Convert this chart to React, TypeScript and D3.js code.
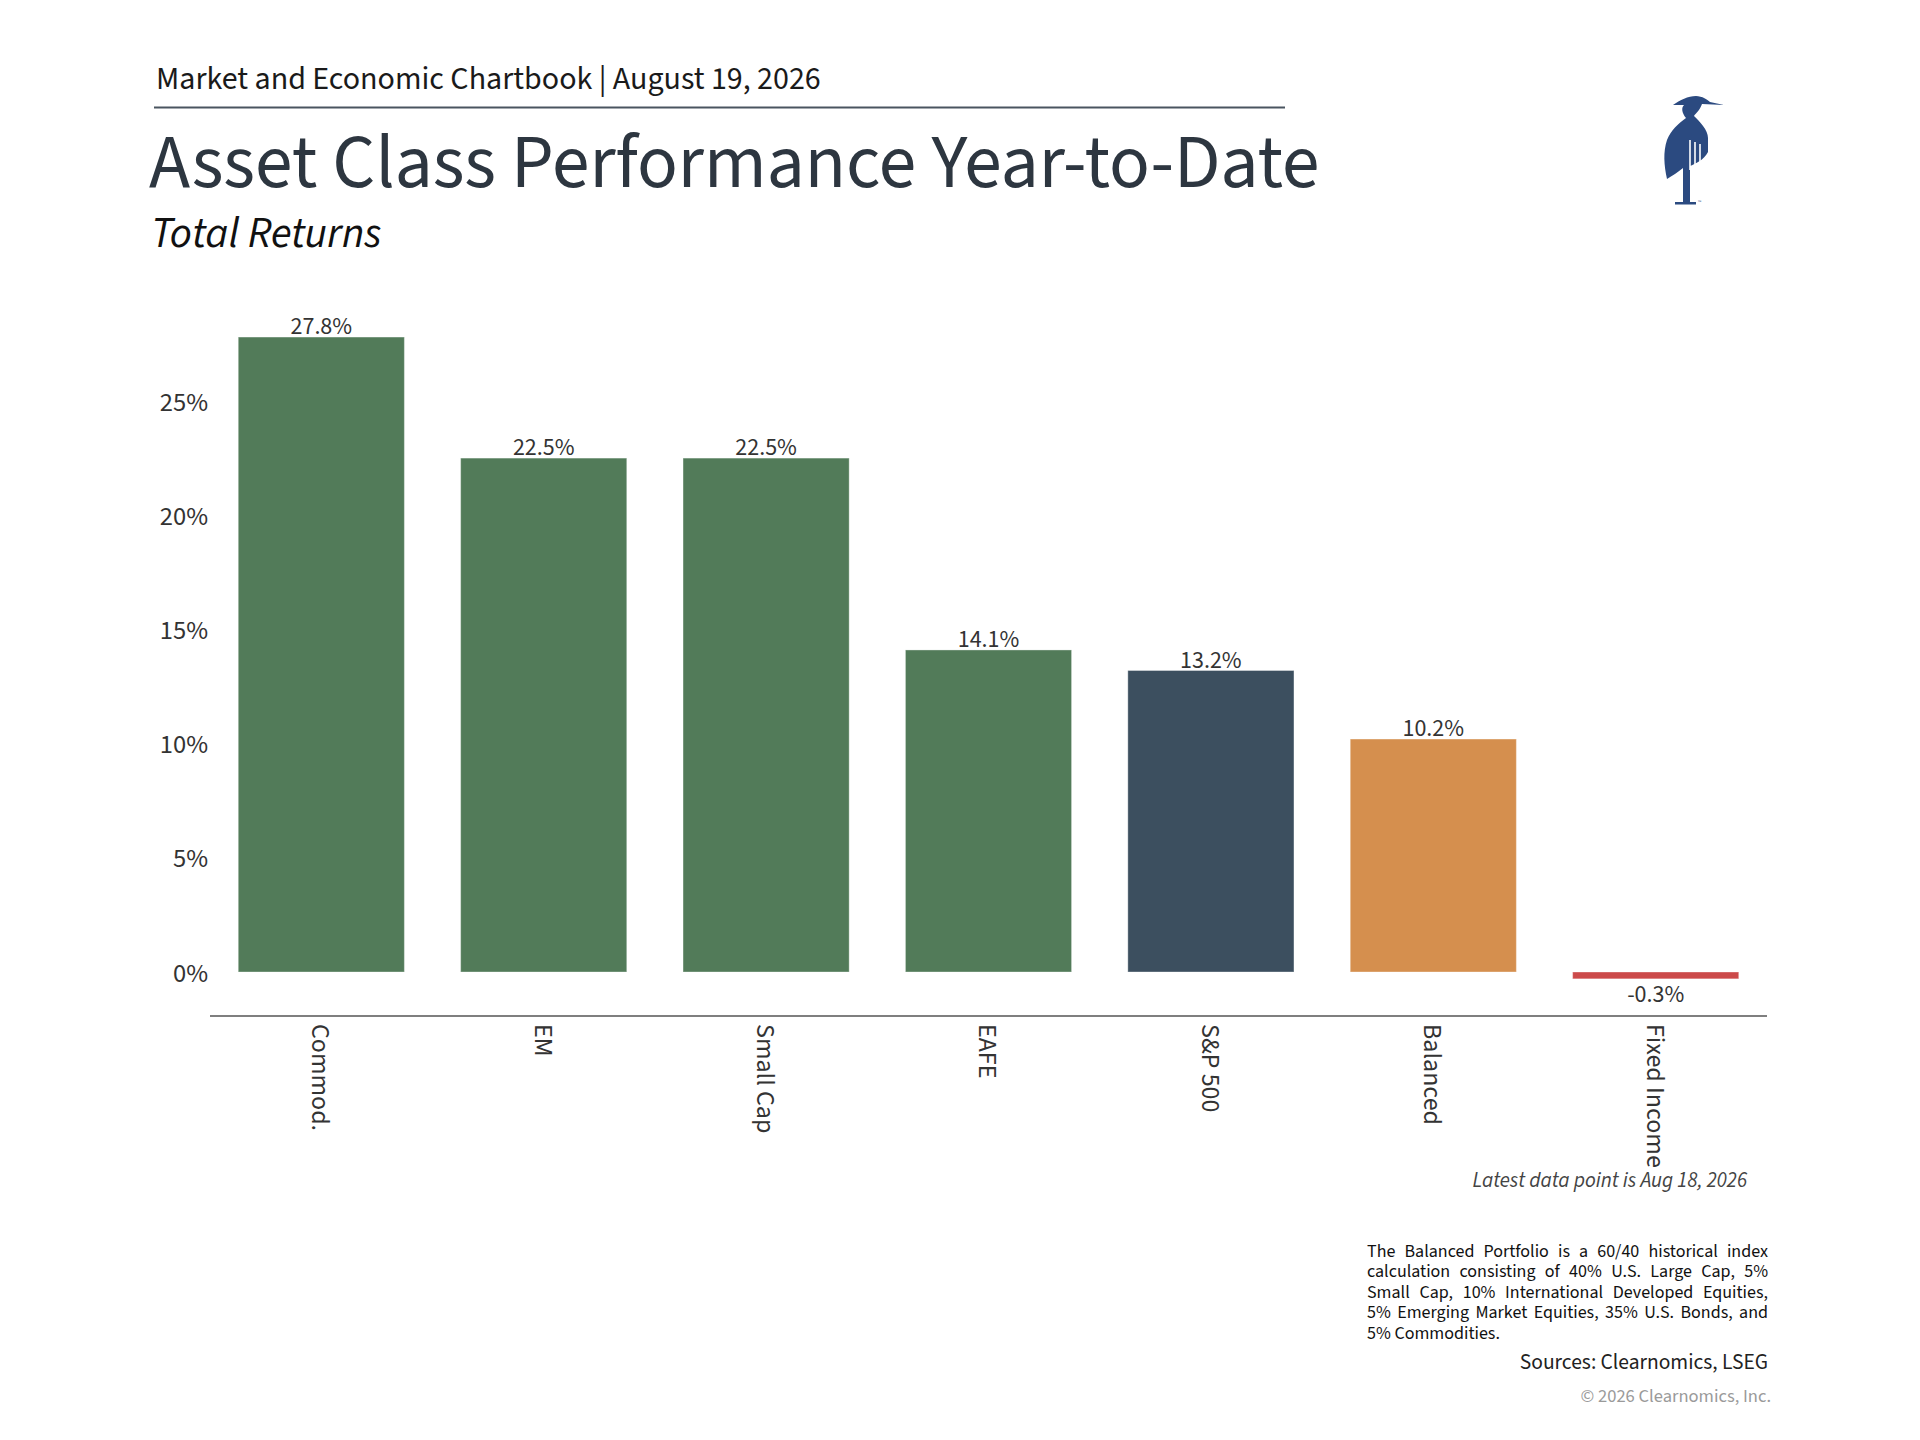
import React, { useEffect, useRef } from 'react';
import * as d3 from 'd3';

// chart data
const categories = ['Commod.', 'EM', 'Small Cap', 'EAFE', 'S&P 500', 'Balanced', 'Fixed Income'];
const returns = [27.8, 22.5, 22.5, 14.1, 13.2, 10.2, -0.3];
const barColors = ['#527b59', '#527b59', '#527b59', '#527b59', '#3c4f5f', '#d58f4e', '#cc4a4a'];
const yTicks = [0, 5, 10, 15, 20, 25];

const footnoteLines = [
  'The Balanced Portfolio is a 60/40 historical index',
  'calculation consisting of 40% U.S. Large Cap, 5%',
  'Small Cap, 10% International Developed Equities,',
  '5% Emerging Market Equities, 35% U.S. Bonds, and',
  '5% Commodities.',
];

const FONT = "'Source Sans 3', 'Source Sans Pro', Lato, sans-serif";

const App = () => {
  const noteRef = useRef<SVGGElement>(null);

  // Get the axis scales.
  const xScale = d3
    .scaleBand<string>()
    .domain(categories)
    .range([210, 1767])
    .paddingInner(0.253)
    .paddingOuter(0.127);
  const yScale = d3.scaleLinear().domain([0, 25]).range([972, 401]);

  // justify the footnote lines (all but the last) to the block width
  useEffect(() => {
    const g = d3.select(noteRef.current);
    const blockWidth = 401;
    g.selectAll<SVGTextElement, unknown>('text').each(function (_d, i) {
      if (i === footnoteLines.length - 1) return;
      const words = footnoteLines[i].split(' ').length;
      const w = this.getComputedTextLength();
      d3.select(this).attr('word-spacing', (blockWidth - w) / (words - 1));
    });
  }, []);

  return (
    <svg
      width={1920}
      height={1440}
      style={{ position: 'absolute', left: 0, top: 0, background: '#fff' }}
      fontFamily={FONT}
    >
      {/* header */}
      <text x={156} y={89} fontSize={32} fill="#1a1a1a">
        Market and Economic Chartbook | August 19, 2026
      </text>
      <line x1={154} x2={1285} y1={107.5} y2={107.5} stroke="#4a5560" strokeWidth={2} />
      <text x={149} y={187} fontSize={75.5} fill="#2d3640">
        Asset Class Performance Year-to-Date
      </text>
      <text x={151} y={247} fontSize={43} fontStyle="italic" fill="#111">
        Total Returns
      </text>

      {/* logo */}
      <g transform="translate(1640,80)" fill="#2b4a80">
        <path d="M84,25 L62,24 C60,30 56,33 54,36 C60,42 68,50 68,58 L68,72 C64,80 55,84 50,86 L50,122 L56,122 L56,124.5 L35,124.5 L35,122 L43,122 L43,88 C38,92 32,96 27,99 C24,85 23,72 27,60 C31,50 38,44 46,38 C42,33 41,28 44,25 L33,25 C40,20 48,16 56,16 C62,16 68,20 70,22 Z" />
        {[50, 55, 60].map((x, i) => (
          <line key={x} x1={x} x2={x} y1={60 + i * 2} y2={90} stroke="#fff" strokeWidth={1.6} />
        ))}
        <text x={58} y={124} fontSize={5} fill="#2b4a80">
          ™
        </text>
      </g>

      {/* y tick labels */}
      {yTicks.map((t) => (
        <text
          key={t}
          x={208}
          y={yScale(t)}
          dy="0.36em"
          textAnchor="end"
          fontSize={26.5}
          fill="#333"
        >
          {`${t}%`}
        </text>
      ))}

      {/* bars */}
      {categories.map((c, i) => {
        const v = returns[i];
        const y0 = yScale(0);
        const y1 = yScale(v);
        return (
          <rect
            key={c}
            x={xScale(c)}
            y={Math.min(y0, y1)}
            width={xScale.bandwidth()}
            height={Math.abs(y1 - y0)}
            fill={barColors[i]}
            stroke="#ffffff"
            strokeOpacity={0.35}
            strokeWidth={1}
          />
        );
      })}

      {/* value labels */}
      {categories.map((c, i) => {
        const v = returns[i];
        const cx = (xScale(c) ?? 0) + xScale.bandwidth() / 2;
        return (
          <text
            key={c}
            x={cx}
            y={v >= 0 ? yScale(v) - 3 : yScale(v) + 23}
            textAnchor="middle"
            fontSize={24}
            fill="#333"
          >
            {`${v.toFixed(1)}%`}
          </text>
        );
      })}

      {/* category axis */}
      <line x1={210} x2={1767} y1={1016} y2={1016} stroke="#555" strokeWidth={1.5} />
      {categories.map((c) => {
        const cx = (xScale(c) ?? 0) + xScale.bandwidth() / 2;
        return (
          <text
            key={c}
            transform={`translate(${cx},1024) rotate(90)`}
            dy="0.35em"
            fontSize={26}
            fill="#333"
          >
            {c}
          </text>
        );
      })}

      <text x={1747} y={1187} textAnchor="end" fontSize={21} fontStyle="italic" fill="#444">
        Latest data point is Aug 18, 2026
      </text>

      {/* footnote */}
      <g ref={noteRef} fontSize={18} fill="#111">
        {footnoteLines.map((l, i) => (
          <text key={i} x={1367} y={1257 + i * 20.4}>
            {l}
          </text>
        ))}
      </g>
      <text x={1768} y={1369} textAnchor="end" fontSize={21.5} fill="#222">
        Sources: Clearnomics, LSEG
      </text>
      <text x={1771} y={1402} textAnchor="end" fontSize={18.5} fill="#9a9a9a">
        © 2026 Clearnomics, Inc.
      </text>
    </svg>
  );
};

export default App;
